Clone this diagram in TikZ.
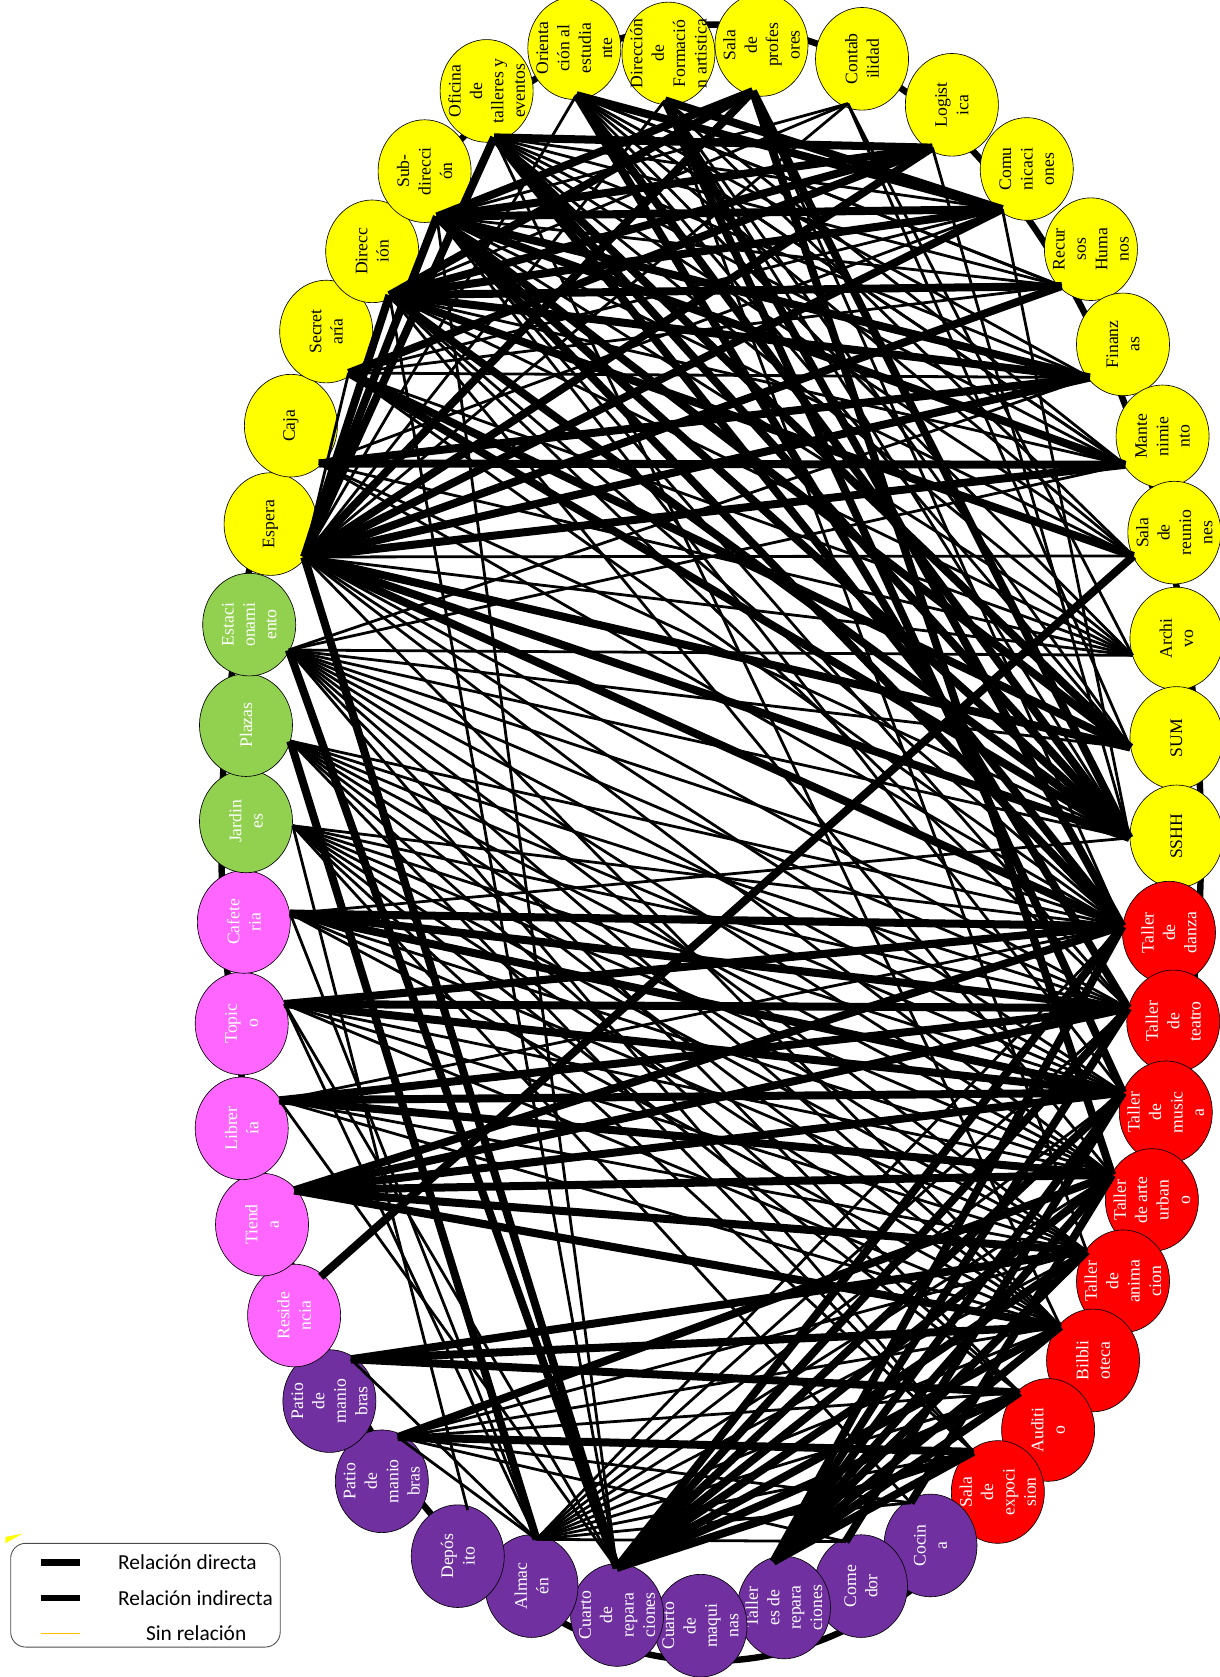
\documentclass[tikz,border=0pt]{standalone}
\usepackage{fontspec}
\setmainfont{Liberation Serif}
\newfontfamily\legfont{Carlito}
\usepackage{tikz}
\usetikzlibrary{shapes.geometric,calc}
\definecolor{ylw}{HTML}{FFFF00}
\definecolor{grn}{HTML}{92D050}
\definecolor{pnk}{HTML}{FF66FF}
\definecolor{rd}{HTML}{FF0000}
\definecolor{prp}{HTML}{7030A0}
\definecolor{gld}{HTML}{FFC000}

\begin{document}
\begin{tikzpicture}[x=1pt,y=-1pt]
\tikzstyle{room}=[ellipse,draw,line width=0.6pt,rotate=90,minimum width=96pt,minimum height=87pt,inner sep=-14pt,align=center,font=\fontsize{16.5}{20}\selectfont]
\tikzstyle{adm}=[room,fill=ylw]
\tikzstyle{ext}=[room,fill=grn,text=white]
\tikzstyle{srv}=[room,fill=pnk,text=white]
\tikzstyle{art}=[room,fill=rd,text=white]
\tikzstyle{gen}=[room,fill=prp,text=white]
\tikzstyle{direct}=[line width=7.5pt]
\tikzstyle{indirect}=[line width=2.6pt]
\tikzstyle{ring}=[line width=6pt]
\tikzstyle{legtxt}=[anchor=west,font=\legfont\fontsize{20}{24}\selectfont]
\useasboundingbox (0,0) rectangle (1140,1568);

\coordinate (hub) at (570,800);
\draw[ring] (665,788) ellipse [x radius=458, y radius=765];

% administracion
\node[adm] (esp) at (253,490) {Espera};
\node[adm] (caj) at (272,398) {Caja};
\node[adm] (sec) at (305,310) {Secret\\aría};
\node[adm] (dir) at (348,235) {Direcc\\ión};
\node[adm] (sub) at (397,160) {Sub-\\direcci\\ón};
\node[adm] (ofi) at (455,85) {Oficina\\de\\talleres y\\eventos};
\node[adm] (ori) at (537,45) {Orienta\\ción al\\estudia\\nte};
\node[adm] (dfa) at (625,50) {Dirección\\de\\Formació\\n artistica};
\node[adm] (spr) at (712,42) {Sala\\de\\profes\\ores};
\node[adm] (con) at (806,55) {Contab\\ilidad};
\node[adm] (log) at (890,98) {Logist\\ica};
\node[adm] (com) at (960,158) {Comu\\nicaci\\ones};
\node[adm] (rrh) at (1020,233) {Recur\\sos\\Huma\\nos};
\node[adm] (fin) at (1050,322) {Finanz\\as};
\node[adm] (man) at (1087,408) {Mante\\nimie\\nto};
\node[adm] (sre) at (1098,498) {Sala\\de\\reunio\\nes};
\node[adm] (arc) at (1100,597) {Archi\\vo};
\node[adm] (sum) at (1100,690) {SUM};
\node[adm] (ssh) at (1100,782) {SSHH};
% talleres
\node[art] (tda) at (1093,872) {Taller\\de\\danza};
\node[art] (tte) at (1097,955) {Taller\\de\\teatro};
\node[art] (tmu) at (1090,1040) {Taller\\de\\music\\a};
\node[art] (tau) at (1077,1122) {Taller\\de arte\\urban\\o};
\node[art] (tan) at (1050,1198) {Taller\\de\\anima\\cion};
\node[art] (bib) at (1022,1272) {Bilbli\\oteca};
\node[art] (aud) at (980,1337) {Auditi\\o};
\node[art] (sex) at (933,1395) {Sala\\de\\expoci\\sion};
% servicios generales
\node[gen] (coc) at (870,1445) {Cocin\\a};
\node[gen] (cme) at (805,1483) {Come\\dor};
\node[gen] (tre) at (733,1503) {Taller\\es de\\repara\\ciones};
\node[gen] (cma) at (655,1520) {Cuarto\\de\\maqui\\nas};
\node[gen] (cre) at (577,1510) {Cuarto\\de\\repara\\ciones};
\node[gen] (alm) at (497,1483) {Almac\\én};
\node[gen] (dep) at (428,1455) {Depós\\ito};
\node[gen] (pm2) at (357,1385) {Patio\\de\\manio\\bras};
\node[gen] (pm1) at (308,1310) {Patio\\de\\manio\\bras};
% servicios complementarios
\node[srv] (res) at (275,1230) {Reside\\ncia};
\node[srv] (tie) at (245,1145) {Tiend\\a};
\node[srv] (lib) at (226,1055) {Librer\\ía};
\node[srv] (top) at (226,957) {Topic\\o};
\node[srv] (caf) at (228,862) {Cafete\\ria};
% exteriores
\node[ext] (jar) at (230,768) {Jardin\\es};
\node[ext] (pla) at (230,678) {Plazas};
\node[ext] (est) at (233,584) {Estaci\\onami\\ento};

% relaciones indirectas
\foreach \a/\b in {esp/sec,esp/ori,esp/dfa,esp/con,esp/arc,esp/sre,esp/tte,esp/tmu,esp/tau,esp/bib,
  est/tda,est/tte,est/tmu,est/tau,est/tan,est/bib,est/ssh,est/sum,est/man,est/fin,est/aud,est/sex,est/arc,
  pla/tda,pla/tte,pla/tmu,pla/tau,pla/tan,pla/bib,pla/aud,pla/sex,
  jar/tda,jar/tte,jar/tmu,jar/tau,jar/tan,jar/bib,jar/aud,jar/sex,jar/coc,jar/dep,
  caf/tau,caf/tan,caf/bib,caf/ssh,caf/alm,top/tau,top/bib,top/tan,top/alm,top/cre,
  lib/tda,lib/tan,lib/bib,lib/cre,
  pm2/bib,pm2/aud,pm2/tan,pm2/coc,pm2/cme,pm2/alm,
  alm/tda,alm/tte,alm/tmu,alm/tau,alm/tan,alm/bib,alm/aud,alm/sex,alm/coc,alm/pm1,alm/cme,
  cre/sub,cre/dir,sub/arc,dir/arc,ofi/arc,ori/arc,sec/arc,caj/arc,
  ori/rrh,ori/fin,ori/man,dfa/man,dfa/sre,dfa/ssh,con/sum,con/arc,con/sub,con/dir,
  log/ssh,log/ofi,com/caj,com/sec,com/ofi,rrh/sub,rrh/sec,rrh/ofi,rrh/ori,fin/ofi,fin/sec,
  man/ofi,man/dir,man/ori,sre/ofi,sre/sub,sre/dir,sre/ori,sum/ori,sum/dfa,ssh/caj,ssh/com,
  tda/dir,tda/caj,tda/sec,tda/spr,tte/sub,tte/dir,tmu/sub,tau/dir,tan/dfa,bib/ofi}
  \draw[indirect] ($(\a)!44pt!(hub)$) -- ($(\b)!44pt!(hub)$);

% relaciones directas
\foreach \a/\b in {esp/sub,esp/dir,esp/ofi,esp/spr,esp/log,esp/com,esp/fin,esp/man,esp/sum,esp/ssh,esp/tda,esp/rrh,
  caj/man,caj/fin,sec/sum,sec/ssh,dir/com,dir/rrh,dir/fin,dir/sre,dir/ssh,
  sub/log,sub/com,sub/fin,sub/man,sub/ssh,sub/sum,sub/tda,sub/spr,
  ofi/ssh,ofi/tda,ofi/log,ofi/sum,ori/com,ori/ssh,ori/tte,dfa/tda,dfa/com,dfa/tmu,
  spr/ssh,spr/dir,spr/tau,log/dir,log/sec,res/sre,est/cre,pla/alm,
  caf/tda,caf/tte,caf/tmu,top/tte,top/tmu,top/tda,lib/tmu,lib/tau,lib/tte,
  tie/tte,tie/tmu,tie/tau,tie/tan,tie/bib,tie/tda,pm1/bib,pm1/aud,pm1/tan,pm2/sex,pm2/tau,
  cre/tda,cre/tte,cre/tmu,cre/tau,cre/tan,cre/bib,cre/aud,cre/sex,cre/esp,
  tre/tda,tre/tte,tre/tmu,tre/tau,tre/tan,tre/bib,tre/aud,tre/sex,cme/tmu,coc/tau}
  \draw[direct] ($(\a)!44pt!(hub)$) -- ($(\b)!44pt!(hub)$);

% leyenda
\fill[ylw] (5,1443) -- (21,1434) -- (5,1437) -- cycle;
\node[draw=black!70,line width=0.8pt,rounded corners=14pt,minimum width=252pt,minimum height=97pt] (ley) at (136,1491.5) {};
\node[legtxt] (ldir) at (107,1461) {Relación directa};
\node[legtxt] (lind) at (107,1494) {Relación indirecta};
\node[legtxt] (lsin) at (133,1527) {Sin relación};
\coordinate (s1) at (38,1461);
\coordinate (s2) at (38,1494);
\coordinate (s3) at (38,1527);
\draw[line width=7pt] (s1) -- ++(37,0);
\draw[line width=5.5pt] (s2) -- ++(37,0);
\draw[gld,line width=1.2pt] (s3) -- ++(37,0);
\end{tikzpicture}
\end{document}
